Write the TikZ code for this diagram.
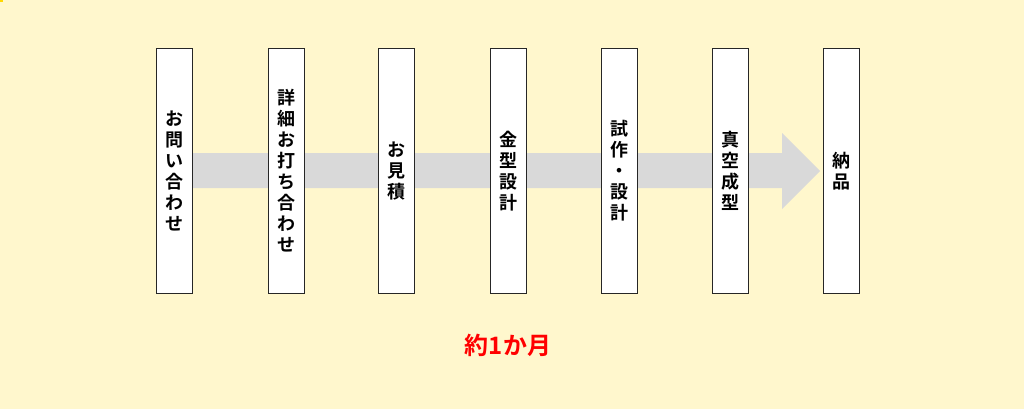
\documentclass[tikz,border=0pt]{standalone}
\usepackage{fontspec}
\newfontfamily\jp{Noto Sans CJK JP Bold}
\definecolor{bg}{HTML}{FFF7CD}
\definecolor{arrowgray}{HTML}{D9D9D9}
\definecolor{boxline}{HTML}{262626}
\definecolor{redtxt}{HTML}{FF0000}
\definecolor{cornermark}{HTML}{FFD800}
\tikzset{
  stepbox/.style={draw=boxline, line width=1pt, fill=white, minimum width=36pt, minimum height=244pt, inner sep=0pt},
  vtext/.style={font=\jp\fontsize{18}{21}\selectfont, align=center, inner sep=0pt},
}
\begin{document}
\begin{tikzpicture}[x=1pt,y=-1pt]
\fill[bg] (0,0) rectangle (1024,409);
\useasboundingbox (0,0) rectangle (1024,409);
\fill[cornermark] (0,0) rectangle (3,2);
% big arrow
\fill[arrowgray] (190,153) -- (782,153) -- (782,133) -- (820,171) -- (782,209) -- (782,188) -- (190,188) -- cycle;
% boxes
\node[stepbox] (b1) at (174.5,171) {};
\node[stepbox] (b2) at (286,171) {};
\node[stepbox] (b3) at (396.5,171) {};
\node[stepbox] (b4) at (508,171) {};
\node[stepbox] (b5) at (619,171) {};
\node[stepbox] (b6) at (730,171) {};
\node[stepbox] (b7) at (841.5,171) {};
\node[vtext] (t1) at (b1.center) {お\\問\\い\\合\\わ\\せ};
\node[vtext] (t2) at (b2.center) {詳\\細\\お\\打\\ち\\合\\わ\\せ};
\node[vtext] (t3) at (b3.center) {お\\見\\積};
\node[vtext] (t4) at (b4.center) {金\\型\\設\\計};
\node[vtext] (t5) at (b5.center) {試\\作\\・\\設\\計};
\node[vtext] (t6) at (b6.center) {真\\空\\成\\型};
\node[vtext] (t7) at (b7.center) {納\\品};
\node[font=\jp\fontsize{24}{28}\selectfont, text=redtxt, inner sep=0pt] (dur) at (508,345) {約1か月};
\end{tikzpicture}
\end{document}
